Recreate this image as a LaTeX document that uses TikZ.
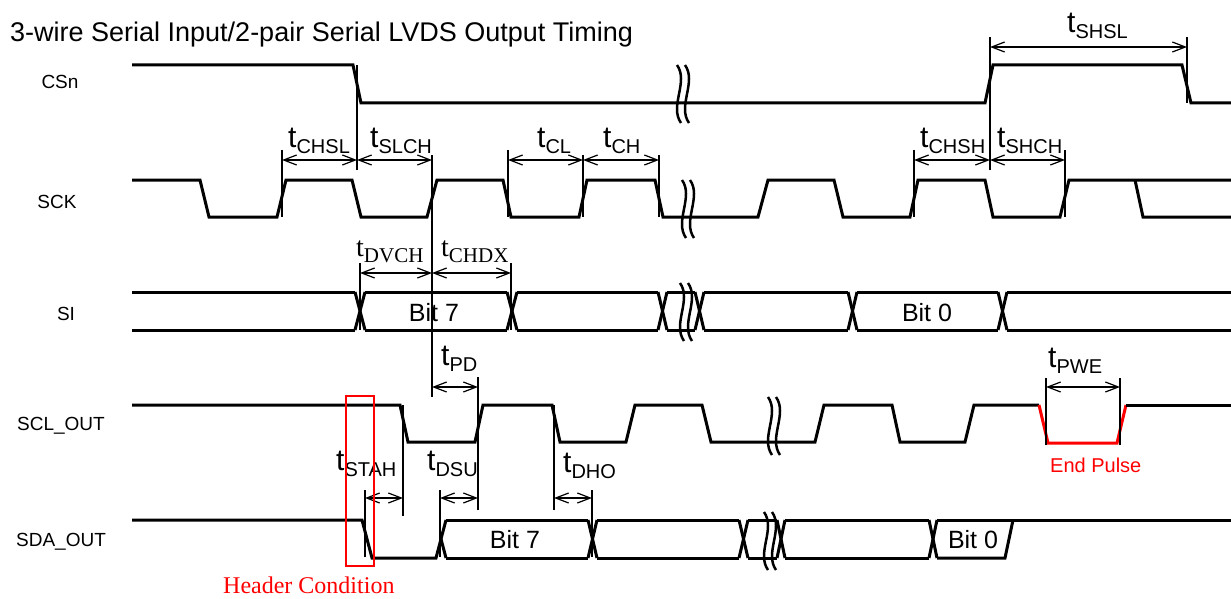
\documentclass[tikz,border=0pt]{standalone}
\usepackage{fontspec}
\setmainfont{Liberation Sans}
\newfontfamily\seriffont{Liberation Serif}
\usetikzlibrary{arrows.meta}
\newcommand\tsans[1]{{\fontsize{30}{32}\selectfont t}\raisebox{-6pt}{\fontsize{20}{22}\selectfont #1}}
\newcommand\tserif[1]{{\seriffont\fontsize{28}{30}\selectfont t}\raisebox{-6pt}{\seriffont\fontsize{21}{22}\selectfont #1}}
\newcommand\brkmark[2]{%
  \draw[brk] ({#1-6},{#2-29}) .. controls ({#1+6},{#2-12}) and ({#1-14},{#2+12}) .. ({#1-2},{#2+29});
  \draw[brk] ({#1+2},{#2-29}) .. controls ({#1+14},{#2-12}) and ({#1-6},{#2+12}) .. ({#1+6},{#2+29});}
% crossing: x1 x2 ytop ybot
\newcommand\xing[4]{\draw[sig] (#1,#3) -- (#2,#4); \draw[sig] (#1,#4) -- (#2,#3);}
\newcommand\bus[4]{\draw[sig] (#1,#3) -- (#2,#3); \draw[sig] (#1,#4) -- (#2,#4);}
\begin{document}
\begin{tikzpicture}[x=1pt,y=-1pt,
  sig/.style={line width=3pt},
  vmark/.style={line width=2pt},
  dim/.style={line width=1.2pt,{Straight Barb[length=13pt,width=10pt]}-{Straight Barb[length=13pt,width=10pt]}},
  brk/.style={line width=2.5pt},
  lbl/.style={anchor=base,inner sep=0pt,font=\fontsize{19}{22}\selectfont},
  tl/.style={anchor=base west,inner sep=0pt},
  bit/.style={anchor=base,inner sep=0pt,font=\fontsize{25}{28}\selectfont}]
\useasboundingbox (0,0) rectangle (1231,599);
% title
\node[anchor=base west,inner sep=0pt,font=\fontsize{27}{30}\selectfont] (title) at (10,42) {3-wire Serial Input/2-pair Serial LVDS Output Timing};
% signal names
\node[lbl] (ncsn) at (60,89) {CSn};
\node[lbl] (nsck) at (57,208) {SCK};
\node[lbl] (nsi) at (66,320) {SI};
\node[lbl] (nscl) at (61,430) {SCL\_OUT};
\node[lbl] (nsda) at (61,546) {SDA\_OUT};
% CSn
\draw[sig] (132,65) -- (353,65) -- (361,103) -- (985,103) -- (993,65) -- (1182,65) -- (1191,103) -- (1231,103);
% SCK
\draw[sig] (132,180) -- (200,180) -- (209,217) -- (277,217) -- (286,180) -- (352,180) -- (361,217) -- (427,217) -- (437,180) -- (503,180) -- (511,217) -- (579,217) -- (587,180) -- (655,180) -- (663,217) -- (758,217) -- (768,180) -- (834,180) -- (843,217) -- (910,217) -- (918,180) -- (985,180) -- (993,217) -- (1060,217) -- (1069,180) -- (1231,180);
\draw[sig] (1135,180) -- (1143,217) -- (1231,217);
% SI
\bus{132}{355}{292}{330}
\xing{355}{365}{292}{330}
\bus{365}{507}{292}{330}
\xing{507}{517}{292}{330}
\bus{517}{658}{292}{330}
\xing{658}{667}{292}{330}
\bus{667}{695}{292}{330}
\xing{695}{704}{292}{330}
\bus{704}{848}{292}{330}
\xing{848}{857}{292}{330}
\bus{857}{998}{292}{330}
\xing{998}{1007}{292}{330}
\bus{1007}{1231}{292}{330}
% SCL_OUT
\draw[sig] (132,405) -- (400,405) -- (408,442) -- (475,442) -- (483,405) -- (552,405) -- (560,442) -- (626,442) -- (635,405) -- (702,405) -- (711,442) -- (815,442) -- (824,405) -- (892,405) -- (900,442) -- (965,442) -- (974,405) -- (1039,405);
\draw[sig,red] (1039,405) -- (1048,443) -- (1117,443) -- (1126,405);
\draw[sig] (1126,405) -- (1231,405);
% SDA_OUT
\draw[sig] (132,520) -- (362,520) -- (372,558) -- (436,558) -- (446,520);
\draw[sig] (441,539) -- (446,558);
\bus{446}{588}{520}{558}
\xing{588}{597}{520}{558}
\bus{597}{739}{520}{558}
\xing{739}{748}{520}{558}
\bus{748}{777}{520}{558}
\xing{777}{785}{520}{558}
\bus{785}{929}{520}{558}
\xing{929}{937}{520}{558}
\draw[sig] (937,520) -- (1231,520);
\draw[sig] (937,558) -- (1005,558) -- (1013,520);
% breaks
\brkmark{683}{94}
\brkmark{688}{209}
\brkmark{686}{312}
\brkmark{774}{426}
\brkmark{770}{541}
% bit labels
\node[bit] (b7si) at (434,321) {Bit 7};
\node[bit] (b0si) at (927,321) {Bit 0};
\node[bit] (b7sda) at (515,548) {Bit 7};
\node[bit] (b0sda) at (973,548) {Bit 0};
% marker lines
\foreach \x/\a/\b in {282/150/217, 357/65/170, 432/155/397, 508/150/217, 583/155/217, 659/155/217, 914/150/217, 990/37/170, 1065/150/217, 1187/37/103, 360/263/330, 511/263/330, 478/377/510, 365/490/557, 403/405/516, 440/490/557, 554/405/510, 592/490/557, 1046/378/445, 1120/378/445}
  \draw[vmark] (\x,\a) -- (\x,\b);
% dimension arrows
\foreach \a/\b/\y in {282/357/160, 357/432/160, 508/583/160, 583/659/160, 914/990/160, 990/1065/160, 990/1187/47, 360/432/273, 432/511/273, 432/478/387, 1046/1120/387, 365/403/498, 440/478/498, 554/592/498}
  \draw[dim] (\a,\y) -- (\b,\y);
% timing labels
\node[tl] (tchsl) at (288,147) {\tsans{CHSL}};
\node[tl] (tslch) at (370,147) {\tsans{SLCH}};
\node[tl] (tcl) at (537,147) {\tsans{CL}};
\node[tl] (tch) at (603,147) {\tsans{CH}};
\node[tl] (tchsh) at (920,147) {\tsans{CHSH}};
\node[tl] (tshch) at (997,147) {\tsans{SHCH}};
\node[tl] (tshsl) at (1067,33) {\tsans{SHSL}};
\node[tl] (tdvch) at (356,256) {\tserif{DVCH}};
\node[tl] (tchdx) at (441,256) {\tserif{CHDX}};
\node[tl] (tpd) at (441,365) {\tsans{PD}};
\node[tl] (tstah) at (336,470) {\tsans{STAH}};
\node[tl] (tdsu) at (427,470) {\tsans{DSU}};
\node[tl] (tdho) at (563,472) {\tsans{DHO}};
\node[tl] (tpwe) at (1048,367) {\tsans{PWE}};
% red annotations
\draw[red,line width=2pt] (346,396) rectangle (374,566);
\node[anchor=base west,inner sep=0pt,text=red,font=\seriffont\fontsize{24}{26}\selectfont] (hdr) at (223,593) {Header Condition};
\node[anchor=base west,inner sep=0pt,text=red,font=\fontsize{20}{22}\selectfont] (endp) at (1050,472) {End Pulse};
\end{tikzpicture}
\end{document}
